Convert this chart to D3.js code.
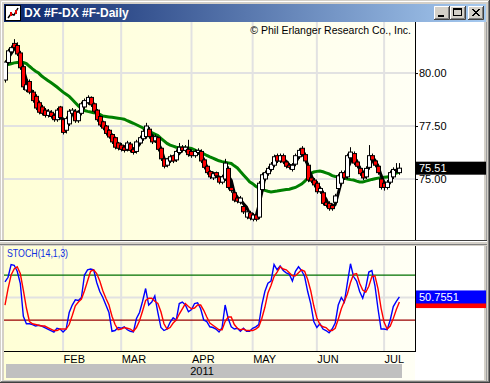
<!DOCTYPE html>
<html><head><meta charset="utf-8">
<script src="https://cdn.jsdelivr.net/npm/d3@7"></script>
<style>
html,body{margin:0;padding:0;background:#d4d0c8;overflow:hidden}
svg{display:block}
text{font-family:"Liberation Sans",Arial,sans-serif}
</style>
</head><body>
<svg id="c" width="490" height="383"></svg>
<script>
// ---------- DATA ----------
const openP=[79.67,80.5,81.0,81.4,81.3,80.95,80.3,79.2,79.6,79.1,78.9,78.6,78.4,78.25,78.0,78.15,78.0,77.8,78.4,77.8,
77.3,77.6,78.1,78.2,77.75,78.1,78.4,78.6,78.85,78.55,78.25,77.95,77.7,77.5,77.3,77.1,76.95,76.7,76.6,76.5,
76.4,76.65,76.4,76.3,76.7,76.9,77.0,77.35,77.0,76.8,76.95,76.45,75.95,75.65,75.85,76.1,75.9,76.25,76.5,76.35,
76.4,76.3,76.1,76.25,76.3,75.9,75.6,75.35,75.05,75.3,75.1,74.85,75.0,75.5,74.6,74.35,74.1,73.9,73.7,73.2,
73.4,73.1,73.3,73.2,74.5,75.0,75.25,75.45,75.65,76.1,75.85,76.1,75.8,75.65,75.45,75.7,76.05,76.45,76.15,75.65,
75.05,74.95,74.8,74.4,74.35,73.9,73.85,73.75,73.9,74.55,74.8,75.3,75.1,76.0,76.2,75.8,75.5,75.3,75.1,75.55,
76.1,75.85,75.6,75.0,74.8,74.6,74.85,75.1,75.4,75.3];
const highP=[80.6,81.15,81.3,81.6,81.45,81.05,80.4,79.6,79.7,79.2,79.0,78.7,78.5,78.35,78.3,78.25,78.1,78.35,78.45,77.9,
77.95,78.3,78.35,78.3,78.25,78.65,78.8,78.95,78.9,78.6,78.3,78.0,77.75,77.55,77.35,77.15,77.0,76.75,76.7,76.6,
76.8,76.75,76.45,76.85,77.05,77.35,77.65,77.45,77.1,77.1,77.0,76.5,76.0,76.0,76.15,76.15,76.4,76.7,76.6,76.6,
76.85,76.4,76.4,76.45,76.4,75.95,75.65,75.4,75.35,75.35,75.15,75.2,75.95,75.6,74.7,74.45,74.2,74.2,73.8,73.55,
73.5,73.4,73.4,74.9,75.3,75.4,75.6,75.8,76.15,76.2,76.2,76.2,75.9,75.75,75.75,76.2,76.45,76.55,76.25,75.75,
75.15,75.05,74.9,74.65,74.45,74.0,73.95,73.85,74.3,75.25,75.4,75.4,76.2,76.5,76.3,75.9,75.6,75.4,75.6,76.6,
76.2,75.95,75.7,75.1,74.9,74.95,75.4,75.55,75.75,75.75];
const lowP=[79.55,80.4,80.9,81.1,80.8,80.15,79.2,79.1,79.0,78.6,78.25,78.05,78.0,77.9,77.9,77.85,77.7,77.7,77.8,77.1,
77.15,77.5,78.0,77.65,77.65,78.0,78.3,78.5,78.4,78.1,77.7,77.45,77.3,77.05,76.9,76.65,76.4,76.35,76.3,76.25,
76.3,76.25,76.15,76.2,76.6,76.8,76.9,76.9,76.65,76.7,76.3,75.85,75.5,75.55,75.75,75.75,75.8,76.15,76.25,76.25,
76.05,76.0,76.0,76.15,75.75,75.45,75.2,75.0,74.95,75.05,74.75,74.75,74.9,74.5,74.35,73.9,73.85,73.8,73.35,73.1,
73.05,73.0,73.0,73.1,74.4,74.9,75.15,75.35,75.55,75.75,75.75,75.7,75.5,75.45,75.35,75.6,75.95,76.05,75.75,74.85,
74.8,74.6,74.3,74.3,73.75,73.65,73.5,73.5,73.8,74.45,74.7,74.95,75.0,75.9,75.65,75.5,75.15,74.95,75.0,75.45,
75.8,75.55,75.2,74.5,74.45,74.5,74.75,75.0,75.3,75.2];
const closeP=[80.52,81.05,81.2,81.2,80.9,80.25,79.35,79.45,79.1,78.7,78.35,78.15,78.1,78.0,78.2,77.95,77.8,78.25,77.9,77.2,
77.85,78.2,78.25,77.75,78.15,78.55,78.7,78.85,78.5,78.2,77.8,77.55,77.4,77.15,76.98,76.75,76.5,76.45,76.4,76.35,
76.7,76.35,76.25,76.75,76.95,77.25,77.5,77.0,76.75,77.0,76.4,75.95,75.6,75.95,76.05,75.85,76.3,76.5,76.35,76.5,
76.15,76.1,76.3,76.35,75.85,75.55,75.3,75.1,75.25,75.15,74.85,75.1,75.75,74.6,74.45,74.0,73.95,74.1,73.45,73.45,
73.15,73.3,73.1,74.8,75.2,75.3,75.5,75.7,76.05,75.85,76.1,75.8,75.6,75.55,75.65,76.1,76.35,76.15,75.85,74.95,
74.9,74.72,74.4,74.55,73.85,73.75,73.6,73.6,74.2,75.15,75.3,75.05,76.1,76.27,75.75,75.6,75.25,75.05,75.5,76.1,
75.9,75.65,75.3,74.6,74.6,74.85,75.3,75.45,75.45,75.51];
const avgShort=[80.3,80.7,80.92,81.15,81.1,80.78,80.17,79.68,79.3,79.08,78.72,78.4,78.2,78.08,78.1,78.05,77.98,78.0,77.98,77.78,
77.65,77.75,78.1,78.07,78.05,78.15,78.47,78.7,78.68,78.52,78.17,77.85,77.58,77.37,77.18,76.96,76.74,76.57,76.45,76.4,
76.48,76.47,76.43,76.45,76.65,76.98,77.23,77.25,77.08,76.92,76.72,76.45,75.98,75.83,75.87,75.95,76.07,76.22,76.38,76.45,
76.33,76.25,76.18,76.25,76.17,75.92,75.57,75.32,75.22,75.17,75.08,75.03,75.23,75.15,74.93,74.35,74.13,74.02,73.83,73.67,
73.35,73.3,73.18,73.73,74.37,75.1,75.33,75.5,75.75,75.87,76.0,75.92,75.83,75.65,75.6,75.77,76.03,76.2,76.12,75.65,
75.23,74.86,74.67,74.56,74.27,74.05,73.73,73.65,73.8,74.32,74.88,75.17,75.48,75.81,76.04,75.87,75.53,75.3,75.27,75.55,
75.83,75.88,75.62,75.18,74.83,74.68,74.92,75.2,75.4,75.47];
const avgLong=[80.36,80.4,80.44,80.48,80.5,80.52,80.5,80.45,80.32,80.2,80.09,80.0,79.86,79.75,79.65,79.55,79.45,79.34,79.22,79.1,
79.0,78.9,78.75,78.6,78.45,78.33,78.23,78.19,78.16,78.13,78.11,78.05,77.97,77.95,77.93,77.91,77.89,77.87,77.85,77.82,
77.75,77.69,77.63,77.56,77.49,77.42,77.33,77.25,77.19,77.12,77.05,76.92,76.8,76.68,76.6,76.55,76.5,76.47,76.46,76.46,
76.46,76.44,76.38,76.31,76.26,76.19,76.11,76.04,75.98,75.92,75.86,75.82,75.79,75.76,75.73,75.62,75.52,75.35,75.19,75.03,
74.87,74.78,74.66,74.58,74.5,74.46,74.42,74.39,74.41,74.43,74.46,74.48,74.5,74.52,74.56,74.6,74.68,74.76,74.88,75.04,
75.25,75.33,75.36,75.38,75.34,75.29,75.24,75.16,75.12,75.1,75.08,75.04,75.0,74.97,74.95,74.9,74.86,74.86,74.9,74.94,
74.98,75.01,75.04,75.06,75.08,75.09,75.15,75.22,75.28,75.33];
const stochK=[71,77,94,93,85,69,25,15,15,14,12,13,12,10,8,6,4,9,8,4,
8,30,40,47,46,50,80,87,88,87,70,58,50,40,30,5,6,10,9,11,
7,5,4,22,30,45,62,40,44,52,30,10,6,8,17,23,20,42,44,40,
31,34,42,43,35,20,18,11,10,8,4,10,40,22,11,8,9,5,9,5,
5,9,11,14,40,58,69,72,94,87,92,86,83,81,72,85,91,86,78,58,
42,18,10,15,8,6,3,8,16,40,50,44,70,95,78,72,58,49,63,84,
86,66,35,8,8,7,20,38,45,50.7551];
const stochD=[40,62,80,88,91,82,60,36,18,15,14,13,12,12,10,8,6,6,8,8,
8,14,26,39,44,48,59,72,85,87,82,72,59,49,40,25,14,7,8,10,
9,8,5,10,19,32,46,49,49,45,42,31,15,8,10,16,20,28,35,42,
38,35,36,40,40,33,24,16,13,10,7,7,18,24,24,14,9,7,8,6,
6,6,8,11,22,37,56,66,78,84,91,88,87,83,79,79,83,87,85,74,
59,39,23,14,11,10,6,6,9,21,35,45,55,70,81,82,69,60,57,65,
78,79,62,36,17,8,12,22,34,43.9473];
const monthLabels=["FEB","MAR","APR","MAY","JUN","JUL"];
const monthStartIdx=[19,38,61,81,102,124];
const priceTicks=[75,77.5,80];
const stochLevels=[20,50,80];
const yearLabel="2011";
const titleText="DX #F-DX #F-Daily";
const copyrightText="\u00A9 Phil Erlanger Research Co., Inc.";
const stochTitle="STOCH(14,1,3)";

// ---------- LAYOUT ----------
const svg=d3.select("#c");
const W=490,H=383;
const PL=4, PR=415;
const UT=22, UB=240, LT=246, LB=351;
const n=closeP.length;
const x=d3.scaleLinear().domain([0,n-1]).range([5,399.4]);
const yP=d3.scaleLinear().domain([72.12,82.41]).range([UB,UT]);
const yS=d3.scaleLinear().domain([-21.3,118.7]).range([LB,LT]);

const defs=svg.append("defs");
const tg=defs.append("linearGradient").attr("id","tg").attr("x1","0").attr("x2","1").attr("y1","0").attr("y2","0");
tg.append("stop").attr("offset","0").attr("stop-color","#0a246a");
tg.append("stop").attr("offset","1").attr("stop-color","#a6caf0");
const bg=defs.append("linearGradient").attr("id","bg").attr("gradientUnits","userSpaceOnUse")
  .attr("x1",PL).attr("x2",PR).attr("y1",0).attr("y2",0);
bg.append("stop").attr("offset","0").attr("stop-color","#ffffd6");
bg.append("stop").attr("offset","1").attr("stop-color","#fffff5");
defs.append("clipPath").attr("id","cu").append("rect").attr("x",PL).attr("y",UT).attr("width",PR-PL).attr("height",UB-UT);
defs.append("clipPath").attr("id","cl").append("rect").attr("x",PL).attr("y",LT).attr("width",PR-PL).attr("height",LB-LT);

// window frame
svg.append("rect").attr("x",0).attr("y",0).attr("width",W).attr("height",H).attr("fill","#d4d0c8");
svg.append("line").attr("x1",1.5).attr("y1",1.5).attr("x2",W-2).attr("y2",1.5).attr("stroke","#ffffff");
svg.append("line").attr("x1",1.5).attr("y1",1.5).attr("x2",1.5).attr("y2",H-2).attr("stroke","#ffffff");
svg.append("line").attr("x1",W-0.5).attr("y1",0).attr("x2",W-0.5).attr("y2",H).attr("stroke","#404040");
svg.append("line").attr("x1",0).attr("y1",H-0.5).attr("x2",W).attr("y2",H-0.5).attr("stroke","#404040");
svg.append("line").attr("x1",W-1.5).attr("y1",1).attr("x2",W-1.5).attr("y2",H-1).attr("stroke","#808080");
svg.append("line").attr("x1",1).attr("y1",H-1.5).attr("x2",W-1).attr("y2",H-1.5).attr("stroke","#808080");

// title bar
svg.append("rect").attr("x",4).attr("y",4).attr("width",W-8).attr("height",18).attr("fill","url(#tg)");
const ic=svg.append("g").attr("transform","translate(5,5)");
ic.append("rect").attr("x",0.5).attr("y",0.5).attr("width",15).attr("height",15).attr("fill","#fff").attr("stroke","#000");
ic.append("path").attr("d","M3,13 L6,9 L9,10 L13,3").attr("stroke","#000").attr("fill","none").attr("stroke-width",1.5);
ic.append("rect").attr("x",5).attr("y",7).attr("width",2).attr("height",4).attr("fill","#e00000");
ic.append("rect").attr("x",10).attr("y",5).attr("width",2).attr("height",4).attr("fill","#e00000");
svg.append("text").attr("x",24).attr("y",17).attr("fill","#fff").attr("font-weight","bold")
  .attr("font-size","12px").text(titleText);
function button(x0,kind){
  const g=svg.append("g").attr("transform",`translate(${x0},6)`);
  g.append("rect").attr("x",0).attr("y",0).attr("width",16).attr("height",14).attr("fill","#d4d0c8");
  g.append("path").attr("d","M0.5,13.5 V0.5 H15.5").attr("stroke","#fff").attr("fill","none");
  g.append("path").attr("d","M0,13.5 H15.5 V0").attr("stroke","#404040").attr("fill","none");
  g.append("path").attr("d","M1,12.5 H14.5 V1").attr("stroke","#808080").attr("fill","none");
  if(kind==="min") g.append("rect").attr("x",4).attr("y",9).attr("width",6).attr("height",2).attr("fill","#000");
  if(kind==="max"){g.append("rect").attr("x",3.5).attr("y",2.5).attr("width",8).attr("height",7).attr("fill","none").attr("stroke","#000");
    g.append("rect").attr("x",3).attr("y",2).attr("width",9).attr("height",2).attr("fill","#000");}
  if(kind==="close") g.append("path").attr("d","M4,3 L11,10 M11,3 L4,10 M5,3 L12,10 M12,3 L5,10").attr("stroke","#000").attr("stroke-width",1);
}
button(434,"min");button(450,"max");button(468,"close");

// content background
svg.append("rect").attr("x",4).attr("y",22).attr("width",W-8-2).attr("height",H-22-3).attr("fill","#ffffff");
svg.append("rect").attr("x",PL).attr("y",UT).attr("width",PR-PL).attr("height",UB-UT).attr("fill","url(#bg)");
svg.append("rect").attr("x",PL).attr("y",LT).attr("width",PR-PL).attr("height",H-3-LT).attr("fill","url(#bg)");
svg.append("rect").attr("x",486).attr("y",22).attr("width",2).attr("height",H-22-2).attr("fill","#d4d0c8");
svg.append("line").attr("x1",486.5).attr("y1",22).attr("x2",486.5).attr("y2",H-2).attr("stroke","#a0a0a0");

// splitter
svg.append("rect").attr("x",0).attr("y",UB).attr("width",487).attr("height",LT-UB).attr("fill","#d4d0c8");
svg.append("line").attr("x1",0).attr("x2",487).attr("y1",UB+0.5).attr("y2",UB+0.5).attr("stroke","#404040");
svg.append("line").attr("x1",0).attr("x2",487).attr("y1",UB+1.5).attr("y2",UB+1.5).attr("stroke","#ffffff");
svg.append("line").attr("x1",0).attr("x2",487).attr("y1",LT-1.5).attr("y2",LT-1.5).attr("stroke","#808080");

// grid
const gU=svg.append("g").attr("clip-path","url(#cu)");
const gL=svg.append("g").attr("clip-path","url(#cl)");
[gU,gL].forEach((g,k)=>{
  g.selectAll("line.v").data(monthStartIdx).join("line")
   .attr("x1",d=>x(d)).attr("x2",d=>x(d)).attr("y1",k?LT:UT).attr("y2",k?LB:UB)
   .attr("stroke","#e2e2e2").attr("stroke-width",2);
});
gU.selectAll("line.h").data(priceTicks).join("line")
  .attr("x1",PL).attr("x2",PR).attr("y1",d=>yP(d)).attr("y2",d=>yP(d))
  .attr("stroke","#e2e2e2").attr("stroke-width",2);

// copyright
svg.append("text").attr("x",411).attr("y",34).attr("text-anchor","end").attr("font-size","10.5px")
  .attr("fill","#000").text(copyrightText);

// price: long average (green)
const lineP=d3.line().x((d,i)=>x(i)).y(d=>yP(d));
gU.append("path").datum(avgLong).attr("d",lineP).attr("fill","none").attr("stroke","#008000").attr("stroke-width",3);

// short average (black thick) under the candles
gU.append("path").datum(avgShort).attr("d",lineP).attr("fill","none").attr("stroke","#000").attr("stroke-width",3);

// candles
const idx=d3.range(n);
gU.selectAll("line.wick").data(idx).join("line")
  .attr("x1",i=>Math.round(x(i))+0.5).attr("x2",i=>Math.round(x(i))+0.5)
  .attr("y1",i=>yP(highP[i])).attr("y2",i=>yP(lowP[i])).attr("stroke","#000");
gU.selectAll("rect.body").data(idx).join("rect")
  .attr("x",i=>Math.round(x(i))-1.5).attr("width",4)
  .attr("y",i=>yP(Math.max(openP[i],closeP[i])))
  .attr("height",i=>Math.max(1,Math.abs(yP(openP[i])-yP(closeP[i]))))
  .attr("fill",i=>closeP[i]>=openP[i]?"#ffffff":"#ff0000").attr("stroke","#000").attr("stroke-width",1);

// price axis
const axP=svg.append("g").attr("transform",`translate(${PR},0)`)
  .call(d3.axisRight(yP).tickValues(priceTicks).tickFormat(d3.format(".2f")).tickSize(3).tickPadding(1).tickSizeOuter(0));
axP.select(".domain").remove();
axP.selectAll("text").attr("font-size","11px").attr("font-family","Liberation Sans, Arial, sans-serif").attr("fill","#000");
axP.selectAll(".tick line").attr("stroke","#000");
svg.append("line").attr("x1",PR+0.5).attr("x2",PR+0.5).attr("y1",UT).attr("y2",UB).attr("stroke","#000");

// last price label
svg.append("rect").attr("x",PR+1).attr("y",yP(closeP[n-1])-6.5).attr("width",70).attr("height",13).attr("fill","#000");
svg.append("text").attr("x",PR+4).attr("y",yP(closeP[n-1])+4).attr("font-size","11px").attr("fill","#fff").text(closeP[n-1].toFixed(2));

// ---------- lower panel ----------
const lvColor={20:"#990000",50:"#e2e2e2",80:"#007000"};
gL.selectAll("line.lv").data(stochLevels).join("line")
  .attr("x1",PL).attr("x2",PR).attr("y1",d=>yS(d)).attr("y2",d=>yS(d))
  .attr("stroke",d=>lvColor[d]).attr("stroke-width",d=>d===50?2:1.3);
const lineS=d3.line().x((d,i)=>x(i)).y(d=>yS(d));
gL.append("path").datum(stochK).attr("d",lineS).attr("fill","none").attr("stroke","#0000ff").attr("stroke-width",1.4);
gL.append("path").datum(stochD).attr("d",lineS).attr("fill","none").attr("stroke","#ff0000").attr("stroke-width",1.4);
svg.append("text").attr("x",7).attr("y",257).attr("font-size","11px").attr("fill","#1030e0")
  .attr("textLength",61).attr("lengthAdjust","spacingAndGlyphs").text(stochTitle);
svg.append("line").attr("x1",PR+0.5).attr("x2",PR+0.5).attr("y1",LT).attr("y2",LB+1).attr("stroke","#000");
svg.append("line").attr("x1",PL).attr("x2",PR+1).attr("y1",LB+0.5).attr("y2",LB+0.5).attr("stroke","#000");

// value labels (%D box mostly hidden behind the %K box)
const dv=stochD[n-1], kv=stochK[n-1];
svg.append("rect").attr("x",PR+1).attr("y",yS(dv)-6).attr("width",70).attr("height",12).attr("fill","#ff0000");
svg.append("rect").attr("x",PR+1).attr("y",yS(kv)-6.5).attr("width",70).attr("height",13).attr("fill","#0000ff");
svg.append("text").attr("x",PR+4).attr("y",yS(kv)+4).attr("font-size","11px").attr("fill","#fff").text(kv.toFixed(4));

// month axis
const axM=svg.append("g").attr("transform",`translate(0,${LB+1})`)
  .call(d3.axisBottom(x).tickValues(monthStartIdx).tickFormat((d,i)=>monthLabels[i]).tickSize(0).tickPadding(0));
axM.select(".domain").remove();
axM.selectAll("text").attr("text-anchor","start").attr("dy",null).attr("y",10.5).attr("font-size","11px")
  .attr("font-family","Liberation Sans, Arial, sans-serif").attr("fill","#000");

// year bar
svg.append("rect").attr("x",6).attr("y",364).attr("width",396).attr("height",14).attr("fill","#c0c0c0");
svg.append("text").attr("x",202).attr("y",375).attr("text-anchor","middle").attr("font-size","11px").attr("fill","#000").text(yearLabel);
</script>
</body></html>
